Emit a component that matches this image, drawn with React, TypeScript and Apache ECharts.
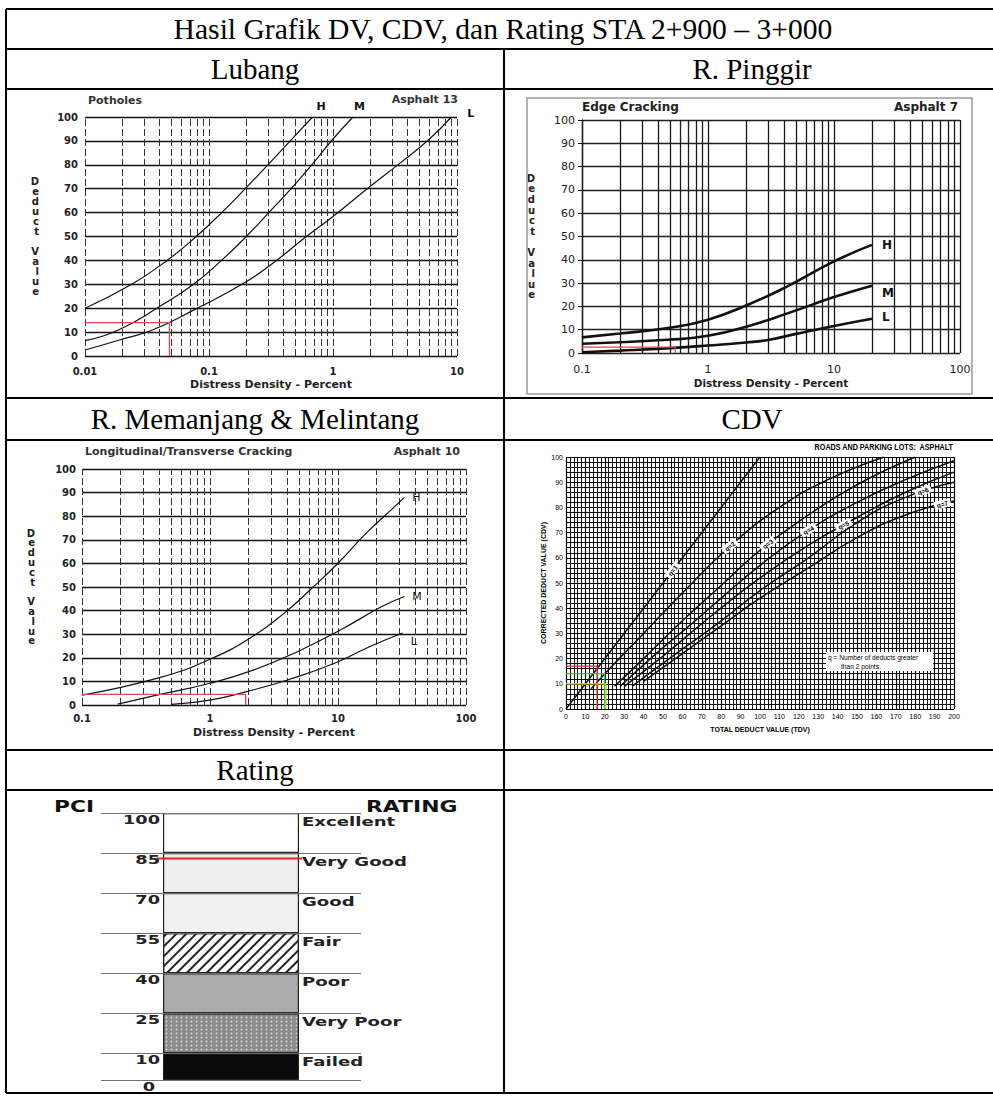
import React, { useEffect, useRef } from 'react';
import * as echarts from 'echarts';

const SERIF = "'Liberation Serif', 'Times New Roman', serif";
const SANS = "'DejaVu Sans', Verdana, sans-serif";
const ARIAL = "'Liberation Sans', Arial, sans-serif";

// ---------- table texts ----------
const tableTitle = 'Hasil Grafik DV, CDV, dan Rating STA 2+900 – 3+000';
const headerLubang = 'Lubang';
const headerPinggir = 'R. Pinggir';
const headerMemanjang = 'R. Memanjang & Melintang';
const headerCdv = 'CDV';
const headerRating = 'Rating';

const logMultipliers = [1, 2, 3, 4, 5, 6, 7, 8, 9];

// ---------- Potholes (Asphalt 13) ----------
const potholesRange = [0.01, 10];
const potholesH = [[0.01, 20], [0.0238, 30], [0.0459, 40], [0.0789, 50], [0.1265, 60], [0.196, 70], [0.2985, 80], [0.452, 90], [0.684, 100]];
const potholesM = [[0.01, 6.4], [0.0186, 10.9], [0.04, 20.7], [0.075, 30], [0.126, 40], [0.2, 50], [0.31, 60.5], [0.46, 70], [0.69, 80.6], [1.0, 90.8], [1.45, 100]];
const potholesL = [[0.01, 2.5], [0.019, 6.7], [0.035, 10.9], [0.077, 19.5], [0.19, 30.4], [0.35, 40], [0.61, 50], [1.0, 58.4], [2.0, 71], [3.47, 80.7], [6.0, 90.8], [9.0, 100]];
const potholesRead = [[0.01, 14], [0.048, 14], [0.048, 0]];

// ---------- Edge cracking (Asphalt 7) ----------
const edgeRange = [0.1, 100];
const edgeH = [[0.1, 6.7], [0.2, 8.4], [0.48, 10.7], [1, 14.3], [2.07, 20.7], [4.27, 28.6], [10, 39.3], [20, 46.4]];
const edgeM = [[0.1, 4], [0.48, 5.7], [1, 7.4], [2.07, 11.5], [4.27, 17], [10, 24], [20, 28.9]];
const edgeL = [[0.1, 0.3], [0.2, 1], [0.5, 2.1], [1, 3.2], [2, 4.5], [3, 5.6], [5, 8.2], [10, 11.6], [20, 14.7]];
const edgeRead = [[0.1, 2.5], [0.55, 2.5], [0.55, 0]];

// ---------- Longitudinal / Transverse cracking (Asphalt 10) ----------
const longRange = [0.1, 100];
const longH = [[0.1, 4.2], [0.41, 11.7], [1, 19.4], [2.05, 28.3], [3.74, 38.6], [6.4, 50], [10.3, 60.8], [16.6, 72.8], [26, 82.7], [33, 88]];
const longM = [[0.19, 0.4], [0.384, 4.2], [1, 9.2], [2.2, 14.9], [5, 23], [10.6, 32], [22, 41.7], [33, 46]];
const longL = [[0.5, 0.3], [1, 2.1], [1.94, 5.7], [4.2, 10.9], [9.7, 18], [17.8, 24.8], [32, 30.5]];
const longRead = [[0.1, 4.5], [1.9, 4.5], [1.9, 0]];

// ---------- CDV (roads and parking lots: asphalt) ----------
const cdvQ1 = [[0, 0], [100, 100]];
const cdvQ2 = [[13, 8], [20, 14], [40, 30], [60, 46], [84.5, 64.6], [110, 80], [135, 91], [164, 100]];
const cdvQ3 = [[25, 9], [40, 20], [60, 35], [80, 49], [100, 63], [125, 77], [150, 89], [180, 100]];
const cdvQ4 = [[28, 9], [45, 21], [65, 34], [80, 44], [100, 57], [125, 71], [150, 82], [175, 91], [200, 98.5]];
const cdvQ5 = [[30, 9], [50, 21], [75, 37], [100, 52], [125, 65], [150, 76], [175, 86], [200, 94]];
const cdvQ6 = [[34, 9], [55, 21], [80, 35], [100, 47], [125, 60], [150, 74], [175, 84], [200, 90]];
const cdvQ7 = [[40, 11], [60, 22], [80, 33], [100, 44], [125, 56], [150, 68], [175, 77], [200, 82.5]];
const cdvLabelNames = ['q=1', 'q=2', 'q=3', 'q=4', 'q=5', 'q=6', 'q=7'];
const cdvLabelPos = [[55, 55], [84.5, 64.6], [104, 65.5], [125, 71], [143, 73], [184, 86.5], [194, 81.3]];
const cdvLabelAngle = [52, 38, 36, 30, 26, 20, 16];
const cdvReadRed = [[0, 17], [16, 17], [16, 0]];
const cdvReadGreen = [[0, 14], [20, 14], [20, 0]];
const cdvReadYellow = [[0, 10], [20.5, 10], [20.5, 0]];
const cdvNote1 = 'q = Number of deducts greater';
const cdvNote2 = 'than 2 points.';

// ---------- Rating ----------
const pciBreaks = [0, 10, 25, 40, 55, 70, 85, 100];
const ratingNames = ['Failed', 'Very Poor', 'Poor', 'Fair', 'Good', 'Very Good', 'Excellent'];
const pciResult = 83;
const pciMarkSpan = [21.5, 77.3];

function logLines(lo: number, hi: number) {
  const out: number[] = [];
  for (let e = lo; e < hi; e++) for (const m of logMultipliers) out.push(+(m * Math.pow(10, e)).toPrecision(3));
  out.push(Math.pow(10, hi));
  return out;
}

function txt(id: string, text: string, x: number, y: number, o: any = {}) {
  const align = o.align || 'left';
  return {
    type: 'text', id, x, y, silent: true, z: o.z ?? 40, scaleX: o.scaleX ?? 1, rotation: o.rotation ?? 0,
    style: {
      text, fill: o.fill || '#111', fontSize: o.size || 12, fontFamily: o.family || SANS, fontWeight: o.weight || 'normal',
      textAlign: align, align, textVerticalAlign: 'middle', verticalAlign: 'middle',
    },
  };
}
function ln(id: string, x1: number, y1: number, x2: number, y2: number, w = 2, c = '#000') {
  return { type: 'line', id, silent: true, z: 50, shape: { x1, y1, x2, y2 }, style: { stroke: c, lineWidth: w } };
}

function curve(data: number[][], axis: number, width: number, label: string | null, offset: number[] = [0, 0], lab: any = {}) {
  return {
    type: 'line', xAxisIndex: axis, yAxisIndex: axis, data, smooth: 0.5, symbol: 'none', silent: true,
    lineStyle: { color: '#111', width }, z: 4,
    endLabel: label ? { show: true, formatter: label, offset, color: '#111', fontFamily: SANS, fontSize: 11, ...lab } : { show: false },
  };
}
function guide(data: number[][], axis: number, color: string, width = 1.2, grid?: number[], gridStyle?: any) {
  const s: any = { type: 'line', xAxisIndex: axis, yAxisIndex: axis, data, symbol: 'none', silent: true, lineStyle: { color, width }, z: 5 };
  if (grid) s.markLine = { silent: true, symbol: 'none', label: { show: false }, lineStyle: gridStyle, data: grid.map((v) => ({ xAxis: v })), z: 2 };
  return s;
}

function dvX(gridIndex: number, range: number[], labelFont: any, margin: number, nameGap: number, nameFont: any) {
  return {
    type: 'log', logBase: 10, gridIndex, min: range[0], max: range[1],
    axisLine: { show: false }, axisTick: { show: false }, splitLine: { show: false },
    axisLabel: { margin, color: '#222', fontFamily: SANS, ...labelFont },
    name: 'Distress Density - Percent', nameLocation: 'middle', nameGap,
    nameTextStyle: { color: '#222', fontFamily: SANS, ...nameFont },
  };
}
function dvY(gridIndex: number, margin: number, nameGap: number, lineHeight: number, labelFont: any, split: any, extra: any = {}) {
  return {
    type: 'value', gridIndex, min: 0, max: 100, interval: 10,
    axisLine: { show: false }, axisTick: { show: false },
    splitLine: { show: true, lineStyle: split },
    axisLabel: { margin, color: '#222', fontFamily: SANS, ...labelFont },
    name: 'D\ne\nd\nu\nc\nt\n \nV\na\nl\nu\ne', nameLocation: 'middle', nameRotate: 0, nameGap,
    nameTextStyle: { fontFamily: SANS, fontWeight: 'bold', fontSize: 10, lineHeight, color: '#222' },
    ...extra,
  };
}

function baseGraphics() {
  const g: any[] = [];
  const L = 6, R = 1000, T = 9, B = 1093, M = 504;
  g.push(ln('t-top', L, T, R, T));
  g.push(ln('t-left', L, T, L, B));
  g.push(ln('t-bottom', L, B, R, B));
  g.push(ln('t-mid', M, 49, M, B));
  [49, 89, 398, 440, 750, 790].forEach((y, i) => g.push(ln('t-row' + i, L, y, R, y)));
  g.push(txt('h-title', tableTitle, 503, 29, { family: SERIF, size: 29.6, align: 'center', fill: '#000' }));
  g.push(txt('h-1', headerLubang, 255, 69, { family: SERIF, size: 29, align: 'center', fill: '#000' }));
  g.push(txt('h-2', headerPinggir, 752, 69, { family: SERIF, size: 29, align: 'center', fill: '#000' }));
  g.push(txt('h-3', headerMemanjang, 255, 419, { family: SERIF, size: 29, align: 'center', fill: '#000' }));
  g.push(txt('h-4', headerCdv, 752, 419, { family: SERIF, size: 29, align: 'center', fill: '#000' }));
  g.push(txt('h-5', headerRating, 255, 770, { family: SERIF, size: 29, align: 'center', fill: '#000' }));
  // potholes
  g.push(txt('p-t', 'Potholes', 88, 100, { size: 11, weight: 'bold', fill: '#333' }));
  g.push(txt('p-a', 'Asphalt 13', 458, 99, { size: 11, weight: 'bold', fill: '#333', align: 'right' }));
  // edge
  g.push({ type: 'rect', id: 'e-frame', silent: true, z: 1, shape: { x: 527, y: 98, width: 445, height: 296 }, style: { fill: 'none', stroke: '#9a9a9a', lineWidth: 1.5 } });
  g.push(txt('e-t', 'Edge Cracking', 582, 107, { size: 12, weight: 'bold', fill: '#222' }));
  g.push(txt('e-a', 'Asphalt 7', 958, 107, { size: 12, weight: 'bold', fill: '#222', align: 'right' }));
  // longitudinal
  g.push(txt('l-t', 'Longitudinal/Transverse Cracking', 85, 451, { size: 11, weight: 'bold', fill: '#333' }));
  g.push(txt('l-a', 'Asphalt 10', 460, 451, { size: 11, weight: 'bold', fill: '#333', align: 'right' }));
  // cdv
  g.push(txt('c-t', 'ROADS AND PARKING LOTS:  ASPHALT', 953, 447, { size: 9, weight: 'bold', family: ARIAL, align: 'right', scaleX: 0.8, fill: '#000' }));
  g.push({ type: 'rect', id: 'c-box', silent: true, z: 30, shape: { x: 826, y: 652, width: 107, height: 19 }, style: { fill: '#fff', stroke: 'none' } });
  g.push(txt('c-n1', cdvNote1, 828, 657.5, { size: 7, family: ARIAL, fill: '#000', z: 31, scaleX: 0.95 }));
  g.push(txt('c-n2', cdvNote2, 841, 666.5, { size: 7, family: ARIAL, fill: '#000', z: 31, scaleX: 0.95 }));
  // rating headers
  g.push(txt('r-pci', 'PCI', 54, 807, { size: 15, weight: 'bold', scaleX: 1.45, fill: '#111' }));
  g.push(txt('r-rat', 'RATING', 366, 807, { size: 15, weight: 'bold', scaleX: 1.46, fill: '#111' }));
  return g;
}

function buildOption(ratingGraphics: any[] = []) {
  const potholesGrid = logLines(-2, 1);
  const edgeGrid = logLines(-1, 2);
  const longGrid = logLines(-1, 2);
  const dashedGrid = { type: [7, 3], color: '#333', width: 1 };
  const solidGrid = { type: 'solid', color: '#1a1a1a', width: 1.3 };

  const bandFill = ['#0b0b0b', '#8c8c8c', '#ababab', '#ffffff', '#f1f1f1', '#eeeeee', '#ffffff'];
  const bandDecal: any[] = [
    null,
    { symbol: 'circle', symbolSize: 0.6, dashArrayX: [3, 2], dashArrayY: [3, 1], color: 'rgba(235,235,235,0.8)' },
    null,
    { symbol: 'rect', symbolSize: 1, dashArrayX: [1, 0], dashArrayY: [1.3, 5], rotation: -Math.PI / 4, color: '#222' },
    null, null, null,
  ];
  const bars = bandFill.map((c, i) => ({
    type: 'bar', xAxisIndex: 4, yAxisIndex: 4, stack: 'pci', barWidth: 136, silent: true,
    data: [pciBreaks[i + 1] - pciBreaks[i]],
    itemStyle: { color: c, borderColor: '#222', borderWidth: 1.2, ...(bandDecal[i] ? { decal: bandDecal[i] } : {}) },
    z: 2,
    ...(i === 0 ? { markLine: { silent: true, symbol: 'none', label: { show: false }, lineStyle: { type: 'solid', color: '#707070', width: 1 }, data: pciBreaks.map((v) => ({ yAxis: v })) } } : {}),
  }));

  const cdvCurves = [cdvQ1, cdvQ2, cdvQ3, cdvQ4, cdvQ5, cdvQ6, cdvQ7].map((d) => curve(d, 3, 1.5, null));

  return {
    animation: false,
    backgroundColor: '#ffffff',
    graphic: { elements: [...baseGraphics(), ...ratingGraphics] },
    grid: [
      { left: 85, top: 117, width: 372, height: 239 },
      { left: 582, top: 120, width: 378, height: 233 },
      { left: 82, top: 469, width: 384, height: 236 },
      { left: 566, top: 457, width: 388, height: 252 },
      { left: 101, top: 813, width: 260, height: 267 },
    ],
    xAxis: [
      dvX(0, potholesRange, { fontSize: 10, fontWeight: 'bold' }, 10, 23, { fontSize: 11, fontWeight: 'bold' }),
      dvX(1, edgeRange, { fontSize: 11 }, 11, 24, { fontSize: 10.5, fontWeight: 'bold' }),
      dvX(2, longRange, { fontSize: 10, fontWeight: 'bold' }, 8, 22, { fontSize: 11, fontWeight: 'bold' }),
      {
        type: 'value', gridIndex: 3, min: 0, max: 200, interval: 10,
        axisLine: { show: false }, axisTick: { show: false },
        splitLine: { show: true, lineStyle: { color: '#000', width: 1.2 } },
        minorTick: { show: false, splitNumber: 5 },
        minorSplitLine: { show: true, lineStyle: { color: '#111', width: 1 } },
        axisLabel: { fontSize: 7, fontFamily: ARIAL, color: '#000', margin: 4 },
        name: 'TOTAL DEDUCT VALUE (TDV)', nameLocation: 'middle', nameGap: 17,
        nameTextStyle: { fontSize: 7, fontWeight: 'bold', fontFamily: ARIAL, color: '#000' },
      },
      { type: 'category', gridIndex: 4, data: ['PCI'], show: false },
      { type: 'value', gridIndex: 4, min: 0, max: 100, show: false },
    ],
    yAxis: [
      dvY(0, 7, 46, 10, { fontSize: 10, fontWeight: 'bold' }, { color: '#111', width: 1.4 }),
      dvY(1, 7, 47, 10.6, { fontSize: 11 }, { color: '#222', width: 1.3 }, {
        axisLine: { show: true, lineStyle: { color: '#111', width: 1.3 } },
        axisTick: { show: true, length: 4, lineStyle: { color: '#111' } },
      }),
      dvY(2, 6, 47, 9.8, { fontSize: 10, fontWeight: 'bold' }, { color: '#111', width: 1.4 }),
      {
        type: 'value', gridIndex: 3, min: 0, max: 100, interval: 10,
        axisLine: { show: false }, axisTick: { show: false },
        splitLine: { show: true, lineStyle: { color: '#000', width: 1.2 } },
        minorTick: { show: false, splitNumber: 5 },
        minorSplitLine: { show: true, lineStyle: { color: '#111', width: 1 } },
        axisLabel: { fontSize: 7, fontFamily: ARIAL, color: '#000', margin: 3 },
        name: 'CORRECTED DEDUCT VALUE (CDV)', nameLocation: 'middle', nameGap: 19,
        nameTextStyle: { fontSize: 7, fontWeight: 'bold', fontFamily: ARIAL, color: '#000' },
      },
      { type: 'value', gridIndex: 4, min: 0, max: 100, show: false },
    ],
    series: [
      // potholes
      guide(potholesRead, 0, '#e04848', 1.3, potholesGrid, dashedGrid),
      curve(potholesH, 0, 1.2, 'H', [-4, -11], { fontWeight: 'bold', fontSize: 11 }),
      curve(potholesM, 0, 1.2, 'M', [-7, -11], { fontWeight: 'bold', fontSize: 11 }),
      curve(potholesL, 0, 1.2, 'L', [8, -4], { fontWeight: 'bold', fontSize: 11 }),
      // edge
      guide(edgeRead, 1, '#e04848', 1.2, edgeGrid, solidGrid),
      curve(edgeH, 1, 2.6, 'H', [2, 0], { fontWeight: 'bold', fontSize: 12 }),
      curve(edgeM, 1, 2.6, 'M', [2, 7], { fontWeight: 'bold', fontSize: 12 }),
      curve(edgeL, 1, 2.6, 'L', [2, -2], { fontWeight: 'bold', fontSize: 12 }),
      // longitudinal
      guide(longRead, 2, '#e04848', 1.3, longGrid, dashedGrid),
      curve(longH, 2, 1.2, 'H', [0, 0], { fontSize: 11 }),
      curve(longM, 2, 1.2, 'M', [0, 0], { fontSize: 11 }),
      curve(longL, 2, 1.2, 'L', [0, 8], { fontSize: 11 }),
      // cdv
      ...cdvCurves,
      guide(cdvReadRed, 3, '#e83030', 1.3),
      guide(cdvReadGreen, 3, '#22c43a', 1.3),
      guide(cdvReadYellow, 3, '#e6d820', 1.3),
      {
        type: 'scatter', xAxisIndex: 3, yAxisIndex: 3, silent: true, z: 6,
        symbol: 'rect', symbolSize: [17, 8],
        itemStyle: { color: '#ffffff', opacity: 1 },
        data: cdvLabelPos.map((p, i) => ({
          value: p,
          symbolRotate: cdvLabelAngle[i],
          label: {
            show: true, position: 'inside', formatter: cdvLabelNames[i], rotate: cdvLabelAngle[i],
            fontSize: 6.5, fontWeight: 'bold', fontFamily: ARIAL, color: '#000', textBorderWidth: 0,
          },
        })),
      },
      // rating
      ...bars,
      {
        type: 'line', xAxisIndex: 5, yAxisIndex: 4, symbol: 'none', silent: true, z: 6,
        data: [[pciMarkSpan[0], pciResult], [pciMarkSpan[1], pciResult]],
        lineStyle: { color: '#e82020', width: 2 },
      },
    ],
  };
}

export default function App() {
  const ref = useRef<HTMLDivElement>(null);
  useEffect(() => {
    const chart = echarts.init(ref.current!, null, { renderer: 'svg' });
    chart.setOption(buildOption());
    const rg: any[] = [];
    pciBreaks.forEach((v, i) => {
      const y = chart.convertToPixel({ yAxisIndex: 4 } as any, v) as number;
      rg.push(txt('rv' + i, String(v), v === 0 ? 155 : 160, y + 7, { size: 12, weight: 'bold', align: 'right', scaleX: 1.48, fill: '#222' }));
      if (i > 0) rg.push(txt('rn' + i, ratingNames[i - 1], 302, y + 8.5, { size: 12.5, weight: 'bold', scaleX: 1.45, fill: '#222' }));
    });
    chart.setOption(buildOption(rg), { notMerge: true });
    return () => chart.dispose();
  }, []);
  return <div ref={ref} style={{ position: 'absolute', left: 0, top: 0, width: 993, height: 1096, background: '#fff' }} />;
}
